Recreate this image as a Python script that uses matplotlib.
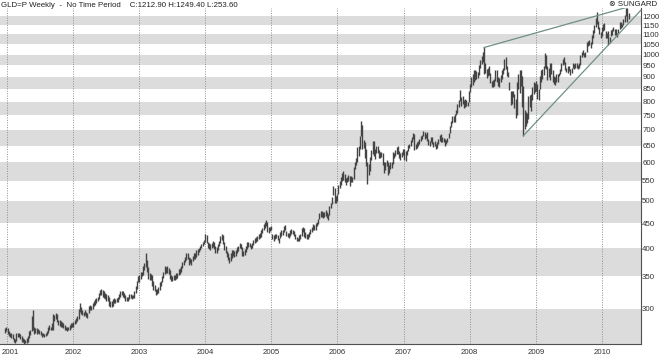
import numpy as np
import pandas as pd
import matplotlib
matplotlib.use('Agg')
import matplotlib.pyplot as plt
import matplotlib.dates as mdates
import matplotlib.transforms as mtransforms
from matplotlib import font_manager

# narrow font if there is one, otherwise a smaller Liberation Sans
installed = {f.name for f in font_manager.fontManager.ttflist}
if 'Liberation Sans Narrow' in installed:
    label_font, label_size = 'Liberation Sans Narrow', 6.6
else:
    label_font, label_size = 'Liberation Sans', 5.7
plt.rcParams['font.family'] = [label_font, 'DejaVu Sans']

# weekly bars, week ending friday, first week 2000-12-22
first_week = '2000-12-22'

# weekly highs (one row per year)
highs = [
    274, 275,
    274, 270, 268, 268, 266, 262, 260, 268, 268, 268, 266, 264, 262, 260, 259, 262, 264, 270, 272, 290, 298,
    276, 274, 274, 273, 272, 270, 268, 268, 267, 268, 270, 276, 278, 276, 280, 293, 292, 294, 293, 285, 284, 283,
    282, 280, 278, 276, 276, 276, 278, 280, 280,
    282, 285, 288, 290, 300, 308, 302, 298, 296, 298, 295, 294, 304, 305, 304, 308, 312, 314, 316, 318, 324, 328,
    330, 328, 326, 324, 322, 320, 318, 312, 312, 314, 316, 314, 316, 318, 322, 326, 326, 326, 324, 320, 318,
    318, 322, 322, 320, 320, 326, 334, 342, 350,
    352, 358, 358, 368, 372, 390, 378, 366, 356, 354, 352, 342, 336, 330, 330, 332, 340, 342, 350, 358, 368, 366,
    368, 364, 360, 352, 350, 352, 352, 356, 356, 362, 364, 368, 375, 378, 384, 390, 390, 384, 382, 380, 386, 390,
    390, 396, 398, 400, 404, 408, 412, 416,
    428, 426, 412, 410, 408, 410, 414, 412, 404, 402, 408, 414, 424, 428, 426, 412, 404, 394, 390, 384, 390, 396,
    396, 394, 396, 402, 404, 410, 408, 402, 394, 398, 404, 412, 412, 410, 406, 410, 416, 420, 422, 424, 428, 430,
    436, 440, 448, 452, 456, 452, 442, 442, 444,
    428, 426, 428, 428, 426, 420, 432, 436, 436, 444, 446, 434, 430, 430, 436, 438, 436, 434, 428, 422, 420,
    426, 428, 440, 442, 440, 432, 428, 428, 432, 438, 442, 448, 446, 450, 452, 460, 472, 476, 476, 474, 474, 478,
    474, 470, 488, 496, 510, 538, 532, 512, 516,
    540, 550, 560, 570, 576, 568, 558, 560, 566, 562, 562, 560, 586, 602, 612, 646, 648, 680, 730, 716, 668,
    660, 640, 600, 596, 616, 636, 664, 664, 640, 648, 648, 636, 630, 630, 628, 600, 600, 606, 600, 592, 600, 600,
    630, 628, 636, 646, 650, 632, 628, 630, 640,
    640, 634, 636, 652, 656, 666, 676, 690, 688, 656, 660, 664, 670, 680, 684, 696, 694, 686, 692, 672, 664,
    676, 678, 662, 664, 656, 662, 670, 684, 686, 676, 674, 672, 668, 674, 690, 714, 730, 746, 748, 756, 770, 790,
    808, 845, 818, 822, 808, 812, 806, 800, 840,
    868, 900, 914, 930, 930, 926, 922, 950, 976, 994, 1012, 1034, 960, 936, 938, 946, 918, 884, 886, 892, 930, 928,
    900, 894, 906, 928, 940, 980, 988, 948, 920, 880, 840, 842, 840, 830, 810, 880, 910, 928, 930, 904, 860, 770,
    762, 758, 820, 826, 830, 856, 880, 876,
    884, 868, 850, 902, 930, 932, 948, 1006, 1000, 946, 940, 962, 960, 930, 902, 900, 914, 910, 916, 932, 962, 980,
    990, 966, 940, 948, 948, 936, 940, 960, 956, 962, 960, 950, 960, 1000, 1012, 1024, 1008,
    1010, 1060, 1064, 1070, 1060, 1098, 1124, 1148, 1190, 1226, 1170, 1140, 1112,
    1138, 1154, 1160, 1118, 1110, 1118, 1086, 1124, 1126, 1142, 1128, 1128, 1110,
    1128, 1164, 1168, 1158, 1182, 1208, 1249.4, 1246, 1218,
]

# weekly lows
lows = [
    268, 270,
    266, 264, 263, 262, 260, 256, 255, 258, 263, 263, 260, 257, 256, 253.6, 255, 255, 257, 262, 265, 270, 272,
    266, 268, 267, 268, 266, 265, 263, 264, 263, 264, 265, 268, 271, 271, 271, 272, 283, 286, 282, 278, 277, 276,
    275, 274, 272, 271, 270, 271, 272, 274, 275,
    276, 279, 281, 283, 286, 295, 293, 292, 290, 291, 289, 288, 294, 298, 298, 300, 304, 306, 308, 311, 314, 320,
    320, 318, 316, 314, 312, 312, 304, 302, 302, 304, 308, 308, 310, 310, 314, 318, 320, 318, 316, 312, 312,
    312, 314, 316, 314, 316, 316, 324, 330, 340,
    340, 346, 350, 352, 360, 365, 358, 346, 344, 344, 335, 328, 326, 320, 322, 324, 328, 334, 340, 348, 354, 356,
    356, 354, 346, 342, 342, 344, 344, 346, 348, 352, 354, 358, 364, 370, 374, 378, 380, 370, 372, 370, 376, 380,
    380, 384, 388, 392, 396, 400, 404, 408,
    412, 410, 400, 398, 396, 400, 402, 398, 390, 390, 396, 404, 410, 416, 408, 396, 390, 384, 378, 372, 376, 382,
    386, 384, 386, 390, 394, 400, 398, 386, 386, 388, 392, 398, 402, 402, 398, 400, 406, 410, 412, 414, 418, 420,
    422, 430, 436, 440, 444, 432, 430, 434, 436,
    418, 414, 418, 420, 416, 410, 420, 424, 426, 432, 436, 424, 422, 420, 424, 428, 428, 424, 418, 414, 414,
    414, 418, 424, 432, 422, 420, 418, 418, 422, 428, 432, 436, 436, 436, 444, 448, 460, 464, 464, 462, 464, 466,
    462, 458, 468, 484, 494, 514, 496, 496, 500,
    518, 532, 540, 550, 552, 546, 540, 546, 550, 536, 548, 548, 556, 582, 592, 600, 620, 640, 680, 640, 642,
    614, 590, 543, 566, 576, 608, 624, 620, 610, 628, 628, 612, 612, 616, 592, 572, 578, 590, 566, 572, 582, 584,
    596, 612, 620, 626, 626, 612, 608, 616, 622,
    608, 604, 622, 634, 642, 650, 660, 672, 636, 638, 642, 650, 656, 664, 672, 680, 672, 674, 664, 652, 650,
    662, 654, 646, 648, 638, 644, 656, 664, 660, 662, 660, 650, 656, 662, 674, 690, 710, 724, 726, 728, 752, 760,
    782, 802, 784, 792, 776, 782, 784, 784, 798,
    836, 856, 866, 878, 888, 892, 896, 906, 938, 958, 966, 914, 916, 894, 904, 906, 872, 858, 856, 862, 884, 878,
    860, 858, 880, 890, 912, 928, 934, 902, 898, 846, 786, 790, 818, 778, 740, 750, 850, 832, 862, 782, 681, 704,
    712, 724, 738, 780, 764, 808, 830, 836,
    842, 810, 808, 848, 880, 890, 906, 938, 936, 888, 900, 888, 912, 878, 868, 864, 878, 878, 902, 910, 924, 950,
    956, 928, 922, 916, 924, 906, 918, 938, 936, 940, 940, 932, 940, 952, 990, 996, 988,
    988, 1012, 1040, 1044, 1030, 1050, 1084, 1108, 1140, 1154, 1130, 1104, 1082,
    1092, 1120, 1124, 1084, 1080, 1046, 1056, 1090, 1096, 1118, 1096, 1090, 1088,
    1106, 1128, 1134, 1138, 1150, 1164, 1200, 1166, 1186,
]

price_ticks = [300, 350, 400, 450, 500, 550, 600, 650, 700, 750, 800, 850, 900, 950,
               1000, 1050, 1100, 1150, 1200]
years = [2001, 2002, 2003, 2004, 2005, 2006, 2007, 2008, 2009, 2010]

title_text = 'GLD=P Weekly  -  No Time Period    C:1212.90 H:1249.40 L:253.60'

weeks = pd.date_range(first_week, periods=len(highs), freq='W-FRI')
highs = np.array(highs, dtype=float)
lows = np.array(lows, dtype=float)
wk_num = mdates.date2num(weeks)

fig = plt.figure(figsize=(6.6, 3.58), dpi=100)
ax = fig.add_axes([0.0, 0.038, 0.971, 0.941])
ax.set_yscale('log')
y_lo, y_hi = lows.min(), highs.max()
x_lo = mdates.date2num(pd.Timestamp('2000-11-24'))
x_hi = mdates.date2num(pd.Timestamp('2010-08-04'))
ax.set_xlim(x_lo, x_hi)
ax.set_ylim(y_lo, y_hi)

# grey bands between every other price level
band_col = '#dcdcdc'
ax.axhspan(y_lo, price_ticks[0], color=band_col, lw=0, zorder=0)
for i in range(1, len(price_ticks) - 1, 2):
    ax.axhspan(price_ticks[i], price_ticks[i + 1], color=band_col, lw=0, zorder=0)

# yearly dotted gridlines
year_pos = mdates.date2num([pd.Timestamp(str(y) + '-01-01') for y in years])
for xp in year_pos:
    ax.axvline(xp, color='#909090', lw=0.7, ls=(0, (1, 1.5)), zorder=1)

# weekly bars
ax.vlines(wk_num, lows, highs, colors='#444444', lw=1.0, zorder=3)

# trend lines (straight on the log scale)
line_col = '#6f8f88'
mask08 = (weeks.year == 2008)
i_top08 = np.where(mask08)[0][np.argmax(highs[mask08])]
i_top = np.argmax(highs)
ax.plot([wk_num[i_top08], wk_num[i_top]], [highs[i_top08], highs[i_top]],
        color=line_col, lw=0.9, zorder=4)

mask_late = (weeks.year >= 2008)
i_bot = np.where(mask_late)[0][np.argmin(lows[mask_late])]
mask10 = (weeks.year == 2010)
i_bot10 = np.where(mask10)[0][np.argmin(lows[mask10])]
slope = (np.log(lows[i_bot10]) - np.log(lows[i_bot])) / (wk_num[i_bot10] - wk_num[i_bot])
y_end = np.exp(np.log(lows[i_bot]) + slope * (x_hi - wk_num[i_bot]))
ax.plot([wk_num[i_bot], x_hi], [lows[i_bot], y_end], color=line_col, lw=0.9, zorder=4,
        clip_on=False)

# axes styling
for s in ['top', 'left']:
    ax.spines[s].set_visible(False)
for s in ['bottom', 'right']:
    ax.spines[s].set_color('#505050')
    ax.spines[s].set_linewidth(0.8)

ax.yaxis.tick_right()
ax.yaxis.set_major_locator(matplotlib.ticker.FixedLocator(price_ticks))
ax.yaxis.set_minor_locator(matplotlib.ticker.NullLocator())
ax.set_yticklabels([str(p) for p in price_ticks])
ax.tick_params(axis='y', length=0, pad=1, labelsize=label_size, labelcolor='#333333')

ax.xaxis.set_major_locator(matplotlib.ticker.FixedLocator(year_pos))
ax.xaxis.set_minor_locator(matplotlib.ticker.NullLocator())
ax.set_xticklabels([str(y) for y in years])
ax.tick_params(axis='x', length=0, pad=3, labelsize=label_size, labelcolor='#333333')
# first year label sits at the very left edge, keep it inside the figure
lab0 = ax.get_xticklabels()[0]
lab0.set_ha('left')
lab0.set_transform(lab0.get_transform() + mtransforms.ScaledTranslation(-5 / 100, 0, fig.dpi_scale_trans))

fig.text(0.002, 0.986, title_text, fontsize=label_size, color='#222222', va='center', ha='left')
fig.text(0.996, 0.988, '\u2297 SUNGARD', fontsize=label_size, color='#222222', va='center',
         ha='right', family=[label_font, 'DejaVu Sans'])

plt.savefig('out.png', dpi=100)
